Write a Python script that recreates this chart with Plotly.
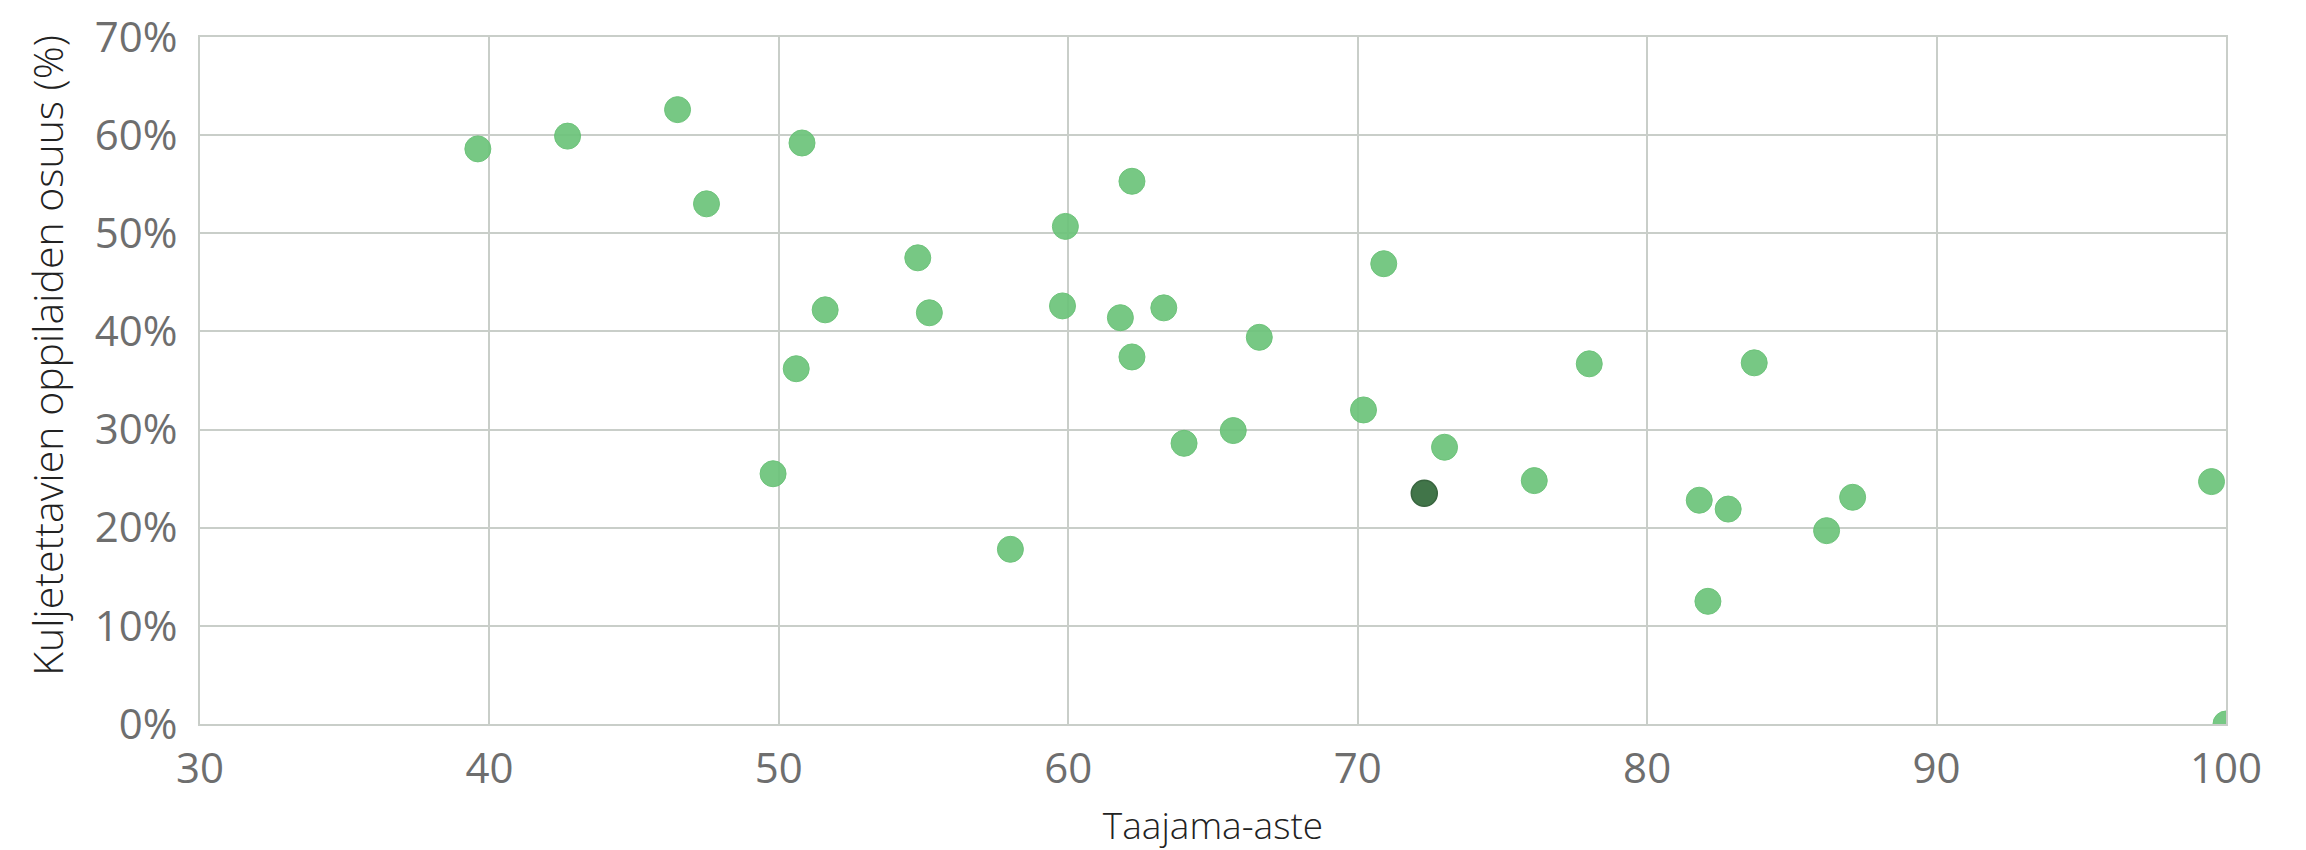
import plotly.graph_objects as go

# Taajama-aste (x) and share of transported pupils in % (y)
taajama_aste = [39.6, 42.7, 46.5, 47.5, 50.8, 54.8, 51.6, 55.2, 50.6, 49.8,
                58.0, 59.9, 59.8, 62.2, 61.8, 62.2, 63.3, 66.6, 70.9, 70.2,
                64.0, 65.7, 73.0, 76.1, 78.0, 81.8, 82.8, 82.1, 83.7, 87.1,
                86.2, 99.5, 100.0]
kuljetettavat = [58.6, 59.9, 62.6, 53.0, 59.2, 47.5, 42.2, 41.9, 36.2, 25.5,
                 17.8, 50.7, 42.6, 55.3, 41.4, 37.4, 42.4, 39.4, 46.9, 32.0,
                 28.6, 29.9, 28.2, 24.8, 36.7, 22.8, 21.9, 12.5, 36.8, 23.1,
                 19.7, 24.7, 0.0]

# Highlighted municipality
korostus_x = [72.3]
korostus_y = [23.5]

x_ticks = [30, 40, 50, 60, 70, 80, 90, 100]
y_ticks = [0, 10, 20, 30, 40, 50, 60, 70]

x_title = "Taajama-aste"
y_title = "Kuljetettavien oppilaiden osuus (%)"

grid_col = "#c9cec9"
tick_col = "#6e6e6e"
title_col = "#222222"
font_family = "Open Sans, Noto Sans, sans-serif"

fig = go.Figure()
fig.add_trace(go.Scatter(
    x=taajama_aste, y=kuljetettavat, mode="markers",
    marker=dict(size=26, color="#6cc47a", opacity=0.92,
                line=dict(color="#62bf70", width=1)),
    showlegend=False, cliponaxis=True, hoverinfo="skip",
))
fig.add_trace(go.Scatter(
    x=korostus_x, y=korostus_y, mode="markers",
    marker=dict(size=26, color="#336b3c", opacity=0.93,
                line=dict(color="#2a5a31", width=1.5)),
    showlegend=False, cliponaxis=True, hoverinfo="skip",
))

fig.update_layout(
    width=2306, height=850,
    margin=dict(l=200, r=80, t=37, b=126),
    paper_bgcolor="white", plot_bgcolor="white",
    font=dict(family=font_family),
)
fig.update_xaxes(
    range=[30, 100], tickvals=x_ticks, ticktext=[str(v) for v in x_ticks],
    automargin=False,
    showgrid=True, gridcolor=grid_col, gridwidth=2,
    showline=True, linecolor=grid_col, linewidth=2, mirror=True,
    zeroline=False, ticks="", ticklabelstandoff=7,
    tickfont=dict(size=42, color=tick_col, family=font_family),
    title=dict(text=x_title, standoff=22,
               font=dict(size=37, color=title_col, family=font_family, weight=300)),
)
fig.update_yaxes(
    range=[0, 70], tickvals=y_ticks, ticktext=[f"{v}%" for v in y_ticks],
    automargin=False,
    showgrid=True, gridcolor=grid_col, gridwidth=2,
    showline=True, linecolor=grid_col, linewidth=2, mirror=True,
    zeroline=False, ticks="", ticklabelstandoff=12,
    tickfont=dict(size=42, color=tick_col, family=font_family),
)
fig.add_annotation(
    text=y_title, textangle=-90, showarrow=False,
    xref="paper", yref="paper", x=-0.0755, y=0.536,
    xanchor="center", yanchor="middle",
    font=dict(size=41, color=title_col, family=font_family, weight=300),
)

fig.write_html(
    "out.html",
    config={"displayModeBar": False},
    post_script="document.body.style.margin='0px';document.body.style.overflow='hidden';",
)
